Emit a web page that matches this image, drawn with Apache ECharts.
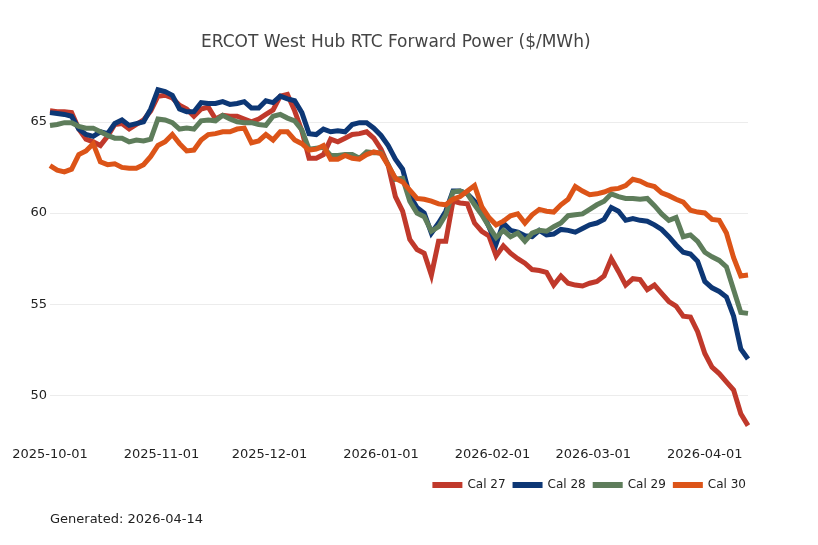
<!DOCTYPE html>
<html>
<head>
<meta charset="utf-8">
<title>ERCOT West Hub RTC Forward Power</title>
<script src="https://cdn.jsdelivr.net/npm/echarts@6/dist/echarts.min.js"></script>
<style>
  html, body { margin: 0; padding: 0; background: #fff; }
  #chart { width: 818px; height: 545px; }
</style>
</head>
<body>
<div id="chart"></div>
<script>
// sample dates, every other calendar day from 2025-10-01 to 2026-04-13
const dates = [];
(function () {
  const d = new Date(2025, 9, 1);
  for (let k = 0; k < 98; k++) {
    const mm = String(d.getMonth() + 1).padStart(2, '0');
    const dd = String(d.getDate()).padStart(2, '0');
    dates.push(d.getFullYear() + '-' + mm + '-' + dd);
    d.setDate(d.getDate() + 2);
  }
})();

const cal27 = [
  65.6, 65.55, 65.55, 65.5, 64.6, 64.05, 63.9, 63.7, 64.2, 64.85,
  64.9, 64.6, 64.85, 65.1, 65.6, 66.4, 66.45, 66.3, 65.9, 65.7,
  65.3, 65.7, 65.8, 65.15, 65.35, 65.3, 65.3, 65.15, 65.0, 65.15,
  65.4, 65.65, 66.4, 66.5, 65.6, 64.5, 63.0, 63.0, 63.2, 64.05,
  63.9, 64.1, 64.3, 64.35, 64.45, 64.1, 63.5, 62.6, 60.9, 60.1,
  58.55, 58.0, 57.8, 56.6, 58.45, 58.45, 60.65, 60.55, 60.5, 59.45,
  59.0, 58.75, 57.65, 58.2, 57.8, 57.5, 57.25, 56.9, 56.85, 56.75,
  56.05, 56.55, 56.15, 56.05, 56.0, 56.15, 56.25, 56.55, 57.5, 56.8,
  56.05, 56.4, 56.35, 55.8, 56.05, 55.6, 55.15, 54.9, 54.35, 54.3,
  53.5, 52.3, 51.55, 51.2, 50.75, 50.3, 49.0, 48.35
];
const cal28 = [
  65.5, 65.45, 65.4, 65.3, 64.6, 64.3, 64.2, 64.45, 64.35, 64.9,
  65.1, 64.8, 64.9, 65.0, 65.7, 66.75, 66.65, 66.45, 65.7, 65.55,
  65.55, 66.05, 66.0, 66.0, 66.1, 65.95, 66.0, 66.1, 65.75, 65.75,
  66.15, 66.05, 66.4, 66.25, 66.15, 65.5, 64.35, 64.3, 64.6, 64.45,
  64.5, 64.45, 64.85, 64.95, 64.95, 64.65, 64.25, 63.7, 62.95, 62.4,
  60.95, 60.3, 60.0, 58.9, 59.45, 60.1, 61.2, 61.2, 61.05, 60.65,
  60.1, 59.25, 58.3, 59.45, 59.05, 58.95, 58.75, 58.7, 59.05, 58.8,
  58.85, 59.1, 59.05, 58.95, 59.15, 59.35, 59.45, 59.65, 60.3, 60.1,
  59.6, 59.7, 59.6, 59.55, 59.35, 59.1, 58.7, 58.25, 57.85, 57.75,
  57.35, 56.25, 55.9, 55.7, 55.4, 54.35, 52.55, 52.0
];
const cal29 = [
  64.8, 64.85, 64.95, 64.95, 64.75, 64.65, 64.65, 64.45, 64.25, 64.1,
  64.1, 63.9, 64.0, 63.95, 64.05, 65.15, 65.1, 64.95, 64.6, 64.65,
  64.6, 65.05, 65.1, 65.05, 65.35, 65.15, 65.0, 64.95, 64.95, 64.85,
  64.8, 65.3, 65.4, 65.2, 65.05, 64.55, 63.5, 63.55, 63.6, 63.15,
  63.15, 63.2, 63.2, 63.0, 63.35, 63.3, 63.3, 62.65, 61.85, 61.9,
  60.65, 60.0, 59.8, 59.0, 59.25, 59.9, 61.15, 61.2, 61.05, 60.45,
  59.9, 59.25, 58.65, 59.05, 58.7, 58.9, 58.45, 58.9, 59.05, 59.0,
  59.25, 59.45, 59.85, 59.9, 59.95, 60.2, 60.45, 60.65, 61.05, 60.9,
  60.8, 60.8, 60.75, 60.8, 60.4, 59.95, 59.6, 59.75, 58.7, 58.8,
  58.45, 57.85, 57.6, 57.4, 57.05, 55.8, 54.55, 54.5
];
const cal30 = [
  62.6, 62.35, 62.25, 62.4, 63.2, 63.4, 63.8, 62.8, 62.65, 62.7,
  62.5, 62.45, 62.45, 62.65, 63.1, 63.7, 63.9, 64.3, 63.8, 63.4,
  63.45, 64.0, 64.3, 64.35, 64.45, 64.45, 64.6, 64.65, 63.85, 63.95,
  64.3, 64.0, 64.45, 64.45, 64.0, 63.8, 63.45, 63.5, 63.7, 62.95,
  62.95, 63.15, 63.0, 62.95, 63.2, 63.35, 63.25, 62.6, 61.9, 61.7,
  61.25, 60.8, 60.75, 60.65, 60.5, 60.45, 60.75, 60.9, 61.2, 61.5,
  60.35, 59.75, 59.35, 59.55, 59.85, 59.95, 59.45, 59.9, 60.2, 60.1,
  60.05, 60.45, 60.75, 61.45, 61.2, 61.0, 61.05, 61.15, 61.3, 61.35,
  61.5, 61.85, 61.75, 61.55, 61.45, 61.1, 60.95, 60.75, 60.6, 60.15,
  60.05, 60.0, 59.65, 59.6, 58.9, 57.55, 56.55, 56.6
];

const seriesNames = ['Cal 27', 'Cal 28', 'Cal 29', 'Cal 30'];
const seriesValues = [cal27, cal28, cal29, cal30];
const colors = ['#C0392B', '#0D3775', '#5E7D5B', '#DC5418'];

const chart = echarts.init(document.getElementById('chart'));

const font = 'DejaVu Sans';

chart.setOption({
  animation: false,
  color: colors,
  textStyle: { fontFamily: font },
  title: {
    text: 'ERCOT West Hub RTC Forward Power ($/MWh)',
    left: 196,
    top: 29,
    textStyle: { fontFamily: font, fontSize: 17, fontWeight: 'normal', color: '#444' }
  },
  legend: {
    data: seriesNames,
    right: 72,
    top: 479,
    padding: 0,
    icon: 'rect',
    itemWidth: 30,
    itemHeight: 6,
    itemGap: 7,
    textStyle: { fontFamily: font, fontSize: 12, color: '#222' }
  },
  grid: { left: 50, right: 70, top: 67, bottom: 113, containLabel: false },
  xAxis: {
    type: 'time',
    min: dates[0],
    max: dates[dates.length - 1],
    axisLine: { show: false },
    axisTick: { show: false },
    splitLine: { show: false },
    axisLabel: {
      margin: 16,
      fontFamily: font,
      fontSize: 13,
      color: '#222',
      hideOverlap: false,
      formatter: function (val) {
        const d = new Date(val);
        if (d.getDate() !== 1) return '';
        return echarts.time.format(val, '{yyyy}-{MM}-{dd}', false);
      }
    }
  },
  yAxis: {
    type: 'value',
    min: 48,
    max: 68,
    axisLine: { show: false },
    axisTick: { show: false },
    splitLine: {
      lineStyle: { color: ['rgba(0,0,0,0)', '#ececec', '#ececec', '#ececec', '#ececec', 'rgba(0,0,0,0)'], width: 1 }
    },
    axisLabel: {
      margin: 3,
      fontFamily: font,
      fontSize: 13,
      color: '#222',
      formatter: function (v) { return v % 5 === 0 ? String(v) : ''; }
    }
  },
  graphic: [{
    type: 'text',
    left: 50,
    top: 513,
    style: { text: 'Generated: 2026-04-14', font: '13px "DejaVu Sans"', fill: '#222' }
  }],
  series: seriesNames.map(function (name, i) {
    return {
      name: name,
      type: 'line',
      showSymbol: false,
      data: dates.map(function (d, k) { return [d, seriesValues[i][k]]; }),
      lineStyle: { width: 5, color: colors[i], join: 'miter' },
      itemStyle: { color: colors[i] }
    };
  })
});
</script>
</body>
</html>
